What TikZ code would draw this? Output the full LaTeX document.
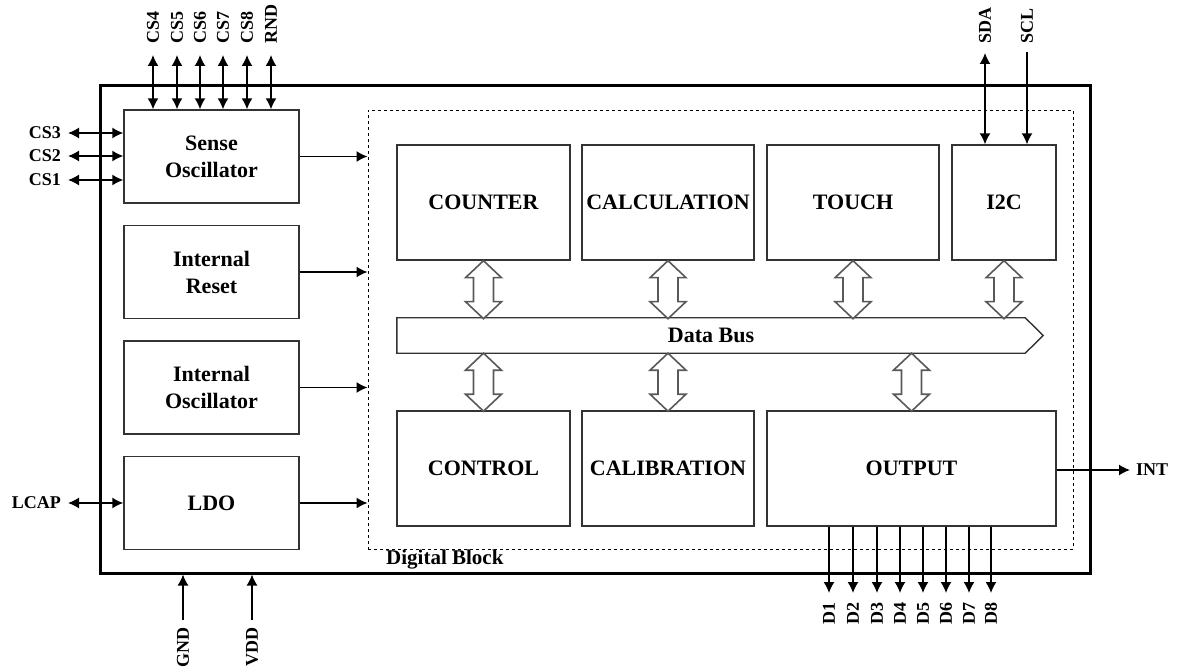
\documentclass[tikz,border=0pt]{standalone}
\usepackage{fontspec}
\setmainfont{Liberation Serif}
\usetikzlibrary{arrows.meta,calc}
\begin{document}
\begin{tikzpicture}[x=1pt,y=-1pt,
  blk/.style={draw=black!80,line width=1.4pt,rectangle,inner sep=0,align=center,
    font=\fontsize{22}{27}\selectfont\bfseries},
  pinlbl/.style={inner sep=0,font=\fontsize{18}{20}\selectfont\bfseries},
  wire/.style={line width=1.5pt},
  tip/.style={-{Latex[length=11pt,width=11pt]}},
  btip/.style={{Latex[length=11pt,width=11pt]}-{Latex[length=11pt,width=11pt]}},
  hollow/.style={draw=black!65,line width=1.6pt,fill=white,line join=miter}]
\useasboundingbox (0,0) rectangle (1178,668);
% chip and digital block
\node[draw,line width=3pt,minimum width=990,minimum height=487,inner sep=0] (chip) at (595,329.5) {};
\node[draw,dashed,line width=0.9pt,minimum width=705,minimum height=439,inner sep=0] (dig) at (720.5,329.5) {};
\node[anchor=west,inner sep=0,font=\fontsize{21}{22}\selectfont\bfseries] (diglbl) at (386,560) {Digital Block};
% left blocks
\node[blk,minimum width=175,minimum height=93] (so) at (211.5,156.5) {Sense\\Oscillator};
\node[blk,minimum width=175,minimum height=93] (ir) at (211.5,272) {Internal\\Reset};
\node[blk,minimum width=175,minimum height=93] (io) at (211.5,387.5) {Internal\\Oscillator};
\node[blk,minimum width=175,minimum height=93] (ldo) at (211.5,503) {LDO};
% digital blocks
\node[blk,minimum width=173,minimum height=115] (cnt) at (483.5,202.5) {COUNTER};
\node[blk,minimum width=172,minimum height=115] (calc) at (668,202.5) {CALCULATION};
\node[blk,minimum width=172,minimum height=115] (tch) at (853,202.5) {TOUCH};
\node[blk,minimum width=104,minimum height=115] (i2c) at (1004,202.5) {I2C};
\node[blk,minimum width=173,minimum height=115] (ctl) at (483.5,468.5) {CONTROL};
\node[blk,minimum width=172,minimum height=115] (cal) at (668,468.5) {CALIBRATION};
\node[blk,minimum width=289,minimum height=115] (out) at (911.5,468.5) {OUTPUT};
% data bus
\node[inner sep=0,minimum width=628,minimum height=35,font=\fontsize{22}{26}\selectfont\bfseries] (bus) at (711,335.5) {Data Bus};
\draw[line width=1.4pt,draw=black!80,line join=miter] (bus.north west) -- (bus.north east) -- ($(bus.east)+(18,0)$) -- (bus.south east) -- (bus.south west) -- cycle;
% hollow double arrows
\foreach \n in {cnt,calc,tch,i2c}{
  \draw[hollow] (\n.south) -- ++(18,17) -- ++(-8,0) -- ++(0,24) -- ++(8,0) -- ++(-18,17) -- ++(-18,-17) -- ++(8,0) -- ++(0,-24) -- ++(-8,0) -- cycle;
}
\foreach \n in {ctl,cal,out}{
  \draw[hollow] (\n.north |- bus.south) -- ++(18,17) -- ++(-8,0) -- ++(0,24) -- ++(8,0) -- ++(-18,17) -- ++(-18,-17) -- ++(8,0) -- ++(0,-24) -- ++(-8,0) -- cycle;
}
% left blocks to digital block
\foreach \n in {so,ir,io,ldo}{
  \draw[wire,tip] (\n.east) -- (\n.east -| dig.west);
}
% top pins of sense oscillator
\foreach \x/\t in {153/CS4,177/CS5,200/CS6,223/CS7,247/CS8,271/RND}{
  \coordinate (pt\t) at (\x,55);
  \draw[wire,btip] (pt\t) -- (pt\t |- so.north);
  \node[pinlbl,rotate=90,anchor=west] (l\t) at (\x,44) {\t};
}
% left pins
\foreach \y/\t in {133/CS3,156/CS2,180/CS1}{
  \coordinate (pl\t) at (68,\y);
  \draw[wire,btip] (pl\t) -- (pl\t -| so.west);
  \node[pinlbl,anchor=east] (l\t) at (61,\y) {\t};
}
\coordinate (pLCAP) at (68,503);
\draw[wire,btip] (pLCAP) -- (pLCAP -| ldo.west);
\node[pinlbl,anchor=east] (lLCAP) at (61,503) {LCAP};
% I2C pins
\coordinate (pSDA) at (985,53);
\coordinate (pSCL) at (1027,52);
\draw[wire,btip] (pSDA) -- (pSDA |- i2c.north);
\draw[wire,tip] (pSCL) -- (pSCL |- i2c.north);
\node[pinlbl,rotate=90,anchor=west] (lSDA) at (985,44) {SDA};
\node[pinlbl,rotate=90,anchor=west] (lSCL) at (1027,44) {SCL};
% power pins
\foreach \x/\t in {183/GND,252/VDD}{
  \coordinate (pp\t) at (\x,620);
  \draw[wire,tip] (pp\t) -- (pp\t |- chip.south);
  \node[pinlbl,rotate=90,anchor=east] (l\t) at (\x,627) {\t};
}
% output pins
\foreach \x/\t in {829/D1,853/D2,877/D3,900/D4,923/D5,946/D6,969/D7,991/D8}{
  \coordinate (pd\t) at (\x,593);
  \draw[wire,tip] (pd\t |- out.south) -- (pd\t);
  \node[pinlbl,rotate=90,anchor=east] (l\t) at (\x,602) {\t};
}
% INT
\coordinate (pINT) at (1130,470);
\draw[wire,tip] (pINT -| out.east) -- (pINT);
\node[pinlbl,anchor=west] (lINT) at (1136,470) {INT};
\end{tikzpicture}
\end{document}
